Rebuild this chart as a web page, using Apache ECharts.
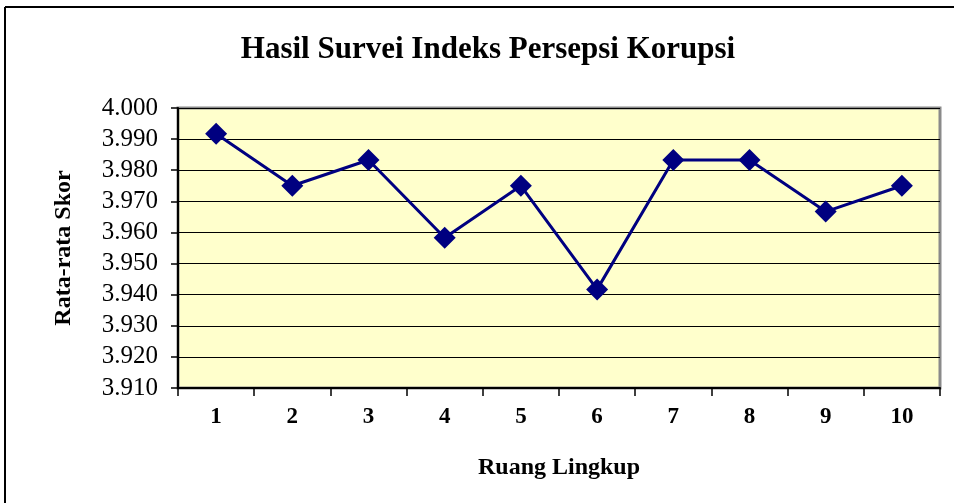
<!DOCTYPE html>
<html>
<head>
<meta charset="utf-8">
<script src="https://cdn.jsdelivr.net/npm/echarts@6/dist/echarts.min.js"></script>
<style>
  html, body { margin: 0; padding: 0; background: #fff; }
  #chart { width: 954px; height: 503px; }
</style>
</head>
<body>
<div id="chart"></div>
<script>
// data
const categories = ['1', '2', '3', '4', '5', '6', '7', '8', '9', '10'];
const scores = [3.9917, 3.975, 3.9833, 3.9583, 3.975, 3.9417, 3.9833, 3.9833, 3.9667, 3.975];
const yMin = 3.91;
const yMax = 4.0;
const yStep = 0.01;

const font = '"Palatino Linotype", "Book Antiqua", Palatino, "Liberation Serif", serif';

const chart = echarts.init(document.getElementById('chart'));
chart.setOption({
  backgroundColor: '#ffffff',
  animation: false,
  title: {
    text: 'Hasil Survei Indeks Persepsi Korupsi',
    left: 483,
    top: 29,
    textAlign: 'center',
    textStyle: { fontFamily: font, fontSize: 31, fontWeight: 'bold', color: '#000' }
  },
  graphic: [
    { type: 'line', shape: { x1: 5, y1: 7, x2: 954, y2: 7 }, style: { stroke: '#000', lineWidth: 2 } },
    { type: 'line', shape: { x1: 5, y1: 7, x2: 5, y2: 503 }, style: { stroke: '#000', lineWidth: 2 } }
  ],
  grid: {
    left: 178, right: 14, top: 108, bottom: 115,
    show: true,
    backgroundColor: '#FFFFCC',
    borderColor: '#8a8a8a',
    borderWidth: 3
  },
  xAxis: {
    type: 'category',
    data: categories,
    boundaryGap: true,
    name: 'Ruang Lingkup',
    nameLocation: 'middle',
    nameGap: 68,
    nameTextStyle: { fontFamily: font, fontSize: 24, fontWeight: 'bold', color: '#000' },
    axisLine: { lineStyle: { color: '#000', width: 2 } },
    axisTick: { show: true, alignWithLabel: false, length: 8, lineStyle: { color: '#000', width: 1.5 } },
    axisLabel: { fontFamily: font, fontSize: 23, fontWeight: 'bold', color: '#000', margin: 18 },
    splitLine: { show: false }
  },
  yAxis: {
    type: 'value',
    min: yMin,
    max: yMax,
    interval: yStep,
    name: 'Rata-rata Skor',
    nameLocation: 'middle',
    nameGap: 102,
    nameRotate: 90,
    nameTextStyle: { fontFamily: font, fontSize: 24, fontWeight: 'bold', color: '#000' },
    axisLine: { show: true, lineStyle: { color: '#000', width: 2 } },
    axisTick: { show: true, inside: false, length: 7, lineStyle: { color: '#000', width: 1.5 } },
    axisLabel: {
      fontFamily: font, fontSize: 25, color: '#000', margin: 20,
      formatter: v => v.toFixed(3)
    },
    splitLine: { show: true, lineStyle: { color: '#000', width: 1 } }
  },
  series: [{
    type: 'line',
    data: scores,
    symbol: 'diamond',
    symbolSize: 22,
    lineStyle: { color: '#000080', width: 3 },
    itemStyle: { color: '#000080' }
  }]
});
</script>
</body>
</html>
